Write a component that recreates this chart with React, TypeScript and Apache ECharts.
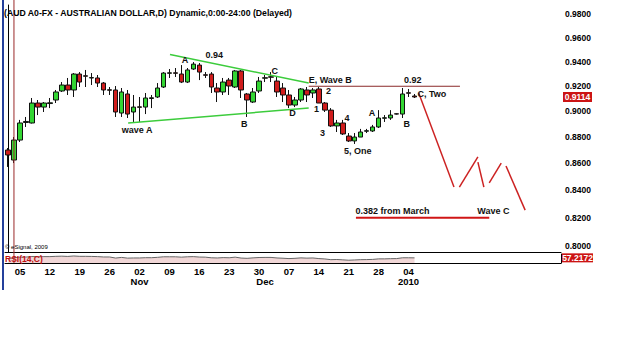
import React, { useEffect, useRef } from "react";
import * as echarts from "echarts";

// ---------- calendar (weekday categories) ----------
const START_DATE = "2009-10-01";
const LAST_LABEL_DATE = "2010-01-04";
const N_SLOTS = 93;
function weekdays(start: string, n: number): string[] {
  const out: string[] = [];
  const d = new Date(start + "T00:00:00Z");
  while (out.length < n) {
    const wd = d.getUTCDay();
    if (wd !== 0 && wd !== 6) out.push(d.toISOString().slice(0, 10));
    d.setUTCDate(d.getUTCDate() + 1);
  }
  return out;
}
const categories = weekdays(START_DATE, N_SLOTS);
const monthLabels: Record<string, string> = {
  "2009-11-02": "Nov",
  "2009-12-01": "Dec",
  "2010-01-04": "2010",
};

// ---------- daily OHLC (AUD) ----------
const opens = [
  0.8701, 0.8625, 0.8777, 0.8913, 0.8909, 0.9066, 0.9034, 0.9062, 0.909, 0.9162,
  0.921, 0.917, 0.9299, 0.9285, 0.9267, 0.9267, 0.9226, 0.9172, 0.917, 0.8987,
  0.9138, 0.8995, 0.9036, 0.9034, 0.9102, 0.9114, 0.9194, 0.9305, 0.9309, 0.9299,
  0.9234, 0.934, 0.9372, 0.9293, 0.9299, 0.9186, 0.9154, 0.925, 0.9194, 0.9324,
  0.9138, 0.9074, 0.9162, 0.9265, 0.9277, 0.9242, 0.9186, 0.913, 0.905, 0.909,
  0.917, 0.9146, 0.9178, 0.9066, 0.901, 0.8886, 0.8909, 0.8808, 0.877, 0.88,
  0.8845, 0.8847, 0.8878, 0.8946, 0.8948, 0.8981, 0.8979, 0.9148, 0.9122,
];
const closes = [
  0.8663, 0.8777, 0.8909, 0.8921, 0.9066, 0.9034, 0.9066, 0.9068, 0.9154, 0.921,
  0.917, 0.9299, 0.9234, 0.9281, 0.927, 0.9226, 0.917, 0.9168, 0.8995, 0.9154,
  0.8979, 0.9034, 0.9032, 0.9106, 0.9108, 0.9186, 0.9307, 0.9309, 0.9305, 0.9234,
  0.9332, 0.938, 0.9315, 0.9289, 0.9194, 0.9154, 0.9234, 0.9202, 0.9324, 0.917,
  0.909, 0.9154, 0.9242, 0.9269, 0.9273, 0.9154, 0.913, 0.905, 0.909, 0.9178,
  0.913, 0.917, 0.9066, 0.901, 0.8886, 0.8909, 0.8824, 0.877, 0.88, 0.8839,
  0.8849, 0.8878, 0.8948, 0.895, 0.8971, 0.8979, 0.9138, 0.9144, 0.9114,
];
const lows = [
  0.8573, 0.8602, 0.8762, 0.8878, 0.8905, 0.8971, 0.8995, 0.9026, 0.9066, 0.9154,
  0.913, 0.9114, 0.9194, 0.9194, 0.921, 0.9194, 0.913, 0.913, 0.8956, 0.8956,
  0.8948, 0.8917, 0.8917, 0.8979, 0.9026, 0.9106, 0.9186, 0.9267, 0.9275, 0.9226,
  0.9226, 0.9332, 0.925, 0.9267, 0.9146, 0.9074, 0.913, 0.913, 0.9186, 0.9106,
  0.8956, 0.9066, 0.9146, 0.9234, 0.9234, 0.9114, 0.9074, 0.9026, 0.9034, 0.9074,
  0.9074, 0.9106, 0.9066, 0.8995, 0.8878, 0.8839, 0.8816, 0.8762, 0.8747, 0.88,
  0.8831, 0.8839, 0.887, 0.8917, 0.8933, 0.8975, 0.8948, 0.9114, 0.9106,
];
const highs = [
  0.8716, 0.88, 0.8933, 0.8956, 0.9106, 0.909, 0.9074, 0.9106, 0.917, 0.9234,
  0.9267, 0.9307, 0.9315, 0.9332, 0.9307, 0.9291, 0.9234, 0.9194, 0.9202, 0.9186,
  0.917, 0.913, 0.9114, 0.9146, 0.913, 0.9226, 0.9315, 0.934, 0.9348, 0.9372,
  0.9348, 0.9397, 0.9389, 0.9315, 0.9315, 0.9226, 0.9267, 0.9267, 0.9332, 0.9332,
  0.9146, 0.9186, 0.9275, 0.9291, 0.9315, 0.9275, 0.9226, 0.917, 0.9114, 0.9186,
  0.9194, 0.9186, 0.9194, 0.9074, 0.9026, 0.8933, 0.8933, 0.8831, 0.8831, 0.8863,
  0.8863, 0.8894, 0.901, 0.8971, 0.901, 0.8985, 0.9186, 0.9178, 0.9138,
];

// RSI(14,C)
const rsiValues = [
  48, 58, 65, 66, 72, 70, 71, 71, 74, 76, 73, 78, 74, 74, 73, 71, 67, 67, 55, 62,
  54, 56, 56, 59, 59, 63, 69, 69, 69, 65, 69, 71, 66, 65, 58, 56, 60, 58, 65, 55,
  52, 57, 61, 62, 62, 56, 53, 49, 52, 57, 54, 56, 49, 45, 37, 39, 35, 31, 34, 37,
  38, 40, 46, 46, 48, 49, 58, 58, 57.2172,
];
const lastPrice = 0.9114;
const lastRsi = 57.2172;

// price axis tick labels
const priceTicks = [0.98, 0.96, 0.94, 0.92, 0.9, 0.88, 0.86, 0.84, 0.82, 0.8];
const priceMin = 0.7958;
const priceMax = 0.9878;

// ---------- hand-drawn annotations (x = trading-day slot, y = price) ----------
const triangleUpper = [[27.1, 0.9459], [50.3, 0.9226]];
const triangleLower = [[20.1, 0.8909], [50.3, 0.9026]];
const waveBLevel = [[50.3, 0.92], [75.6, 0.92]];
const fibLevel = [[58.2, 0.82], [80.5, 0.82]];
const projection = [
  [[68.7, 0.9146], [74.6, 0.8423]],
  [[75.5, 0.8423], [78.6, 0.8648]],
  [[78.6, 0.8609], [79.6, 0.8423]],
  [[80.5, 0.8454], [82.5, 0.8602]],
  [[83.3, 0.858], [86.5, 0.8255]],
];
const waveLabels: { text: string; x: number; y: number }[] = [
  { text: "0.94", x: 34.5, y: 0.9455 },
  { text: "A", x: 29.6, y: 0.9413 },
  { text: "wave A", x: 21.6, y: 0.8855 },
  { text: "B", x: 39.5, y: 0.8902 },
  { text: "C", x: 44.6, y: 0.9324 },
  { text: "D", x: 47.6, y: 0.8987 },
  { text: "E, Wave B", x: 53.9, y: 0.925 },
  { text: "2", x: 53.6, y: 0.9162 },
  { text: "1", x: 51.6, y: 0.9018 },
  { text: "3", x: 52.6, y: 0.8831 },
  { text: "4", x: 56.7, y: 0.8948 },
  { text: "5, One", x: 58.5, y: 0.8694 },
  { text: "A", x: 60.9, y: 0.8987 },
  { text: "B", x: 66.7, y: 0.8902 },
  { text: "0.92", x: 67.7, y: 0.925 },
  { text: "C, Two", x: 70.9, y: 0.9138 },
  { text: "0.382 from March", x: 64.3, y: 0.8252 },
  { text: "Wave C", x: 81.2, y: 0.8252 },
];
const cursorSlot = 1;

const FONT = "Arial, 'Liberation Sans', sans-serif";

export default function App() {
  const ref = useRef<HTMLDivElement>(null);
  useEffect(() => {
    if (!ref.current) return;
    const chart = echarts.init(ref.current, null, { renderer: "svg" });
    const candleData = opens.map((o, i) => [o, closes[i], lows[i], highs[i]]);
    const lineSeries = (data: number[][], color: string, width: number) => ({
      type: "line",
      xAxisIndex: 1,
      yAxisIndex: 0,
      data,
      symbol: "none",
      silent: true,
      lineStyle: { color, width },
      z: 5,
    });
    const option: any = {
      animation: false,
      backgroundColor: "#fff",
      grid: [
        { left: 5, right: 64, top: 5, height: 247 },
        { left: 5, right: 64, top: 254, height: 9 },
      ],
      xAxis: [
        {
          type: "category", gridIndex: 0, position: "bottom", data: categories, boundaryGap: true,
          axisLine: { show: true, lineStyle: { color: "#000", width: 1 } },
          axisTick: { show: false }, axisLabel: { show: false }, splitLine: { show: false },
        },
        { type: "value", gridIndex: 0, position: "bottom", min: -0.5, max: N_SLOTS - 0.5, show: false },
        {
          type: "category", gridIndex: 1, position: "bottom", data: categories, boundaryGap: true,
          axisLine: { show: true, lineStyle: { color: "#000", width: 1 } },
          axisTick: { show: false },
          axisLabel: {
            show: true, margin: 3, color: "#000", fontSize: 9.5, fontWeight: "bold", fontFamily: FONT,
            interval: (_i: number, v: string) =>
              new Date(v + "T00:00:00Z").getUTCDay() === 1 && v <= LAST_LABEL_DATE,
            formatter: (v: string) => v.slice(8, 10),
          },
          splitLine: { show: false },
        },
        {
          type: "category", gridIndex: 1, position: "bottom", data: categories, boundaryGap: true, offset: 10,
          axisLine: { show: false }, axisTick: { show: false },
          axisLabel: {
            show: true, margin: 3, color: "#000", fontSize: 9.5, fontWeight: "bold", fontFamily: FONT,
            interval: (_i: number, v: string) => v in monthLabels,
            formatter: (v: string) => monthLabels[v] || "",
          },
          splitLine: { show: false },
        },
      ],
      yAxis: [
        {
          type: "log", gridIndex: 0, position: "right", min: priceMin, max: priceMax,
          axisLine: { show: true, lineStyle: { color: "#000", width: 1 } },
          axisTick: { show: false }, axisLabel: { show: false }, splitLine: { show: false },
        },
        {
          type: "value", gridIndex: 1, position: "right", min: 0, max: 100,
          axisLine: { show: true, lineStyle: { color: "#000", width: 1 } },
          axisTick: { show: false }, axisLabel: { show: false }, splitLine: { show: false },
        },
      ],
      series: [
        {
          type: "candlestick",
          xAxisIndex: 0,
          yAxisIndex: 0,
          data: candleData,
          barWidth: 5,
          itemStyle: {
            color: "#33d633",
            color0: "#d01c1c",
            borderColor: "#111",
            borderColor0: "#111",
            borderWidth: 1,
          },
          z: 3,
        },
        {
          type: "line",
          xAxisIndex: 2,
          yAxisIndex: 1,
          data: rsiValues,
          symbol: "none",
          lineStyle: { color: "#666", width: 1 },
          areaStyle: { color: "#ebc6c6", origin: "start" },
          silent: true,
        },
        lineSeries(triangleUpper, "#3ccc3c", 1.5),
        lineSeries(triangleLower, "#3ccc3c", 1.5),
        lineSeries(waveBLevel, "#8a2a2a", 1),
        lineSeries(fibLevel, "#d01616", 2),
        ...projection.map((seg) => lineSeries(seg, "#cc2222", 1.5)),
      ],
    };
    chart.setOption(option);

    const py = (v: number) => chart.convertToPixel({ yAxisIndex: 0 }, v) as number;
    const pt = (x: number, y: number) =>
      chart.convertToPixel({ xAxisIndex: 1, yAxisIndex: 0 }, [x, y]) as number[];
    const graphics: any[] = [];
    // left window border
    graphics.push({ type: "line", shape: { x1: 3, y1: 0, x2: 3, y2: 290 }, style: { stroke: "#24409c", lineWidth: 2 }, z: 10 });
    // cursor line
    const cx = chart.convertToPixel({ xAxisIndex: 1 }, cursorSlot) as number;
    graphics.push({ type: "line", shape: { x1: cx, y1: 0, x2: cx, y2: 263 }, style: { stroke: "#9a2a2a", lineWidth: 1 }, z: 10 });
    // price tick labels
    priceTicks.forEach((v) => {
      graphics.push({
        type: "text", x: 565, y: py(v),
        style: { text: v.toFixed(4), fill: "#000", fontSize: 8.5, fontWeight: "bold", fontFamily: FONT, align: "left", verticalAlign: "middle" },
        z: 10,
      });
    });
    // last price box
    const ly = py(lastPrice);
    graphics.push({ type: "rect", shape: { x: 563, y: ly - 5, width: 29, height: 10 }, style: { fill: "#cc1414" }, z: 11 });
    graphics.push({
      type: "text", x: 577.5, y: ly,
      style: { text: lastPrice.toFixed(4), fill: "#fff", fontSize: 8.5, fontWeight: "bold", fontFamily: FONT, align: "center", verticalAlign: "middle" },
      z: 12,
    });
    // RSI value box
    const ry = chart.convertToPixel({ yAxisIndex: 1 }, lastRsi) as number;
    graphics.push({ type: "rect", shape: { x: 562, y: ry - 4.5, width: 31, height: 9 }, style: { fill: "#cc1414" }, z: 11 });
    graphics.push({
      type: "text", x: 577.5, y: ry,
      style: { text: lastRsi.toFixed(4), fill: "#fff", fontSize: 8.5, fontWeight: "bold", fontFamily: FONT, align: "center", verticalAlign: "middle" },
      z: 12,
    });
    // title, copyright, RSI caption
    graphics.push({
      type: "text", x: 4, y: 13,
      style: { text: "(AUD A0-FX - AUSTRALIAN DOLLAR,D) Dynamic,0:00-24:00 (Delayed)", fill: "#000", fontSize: 8.7, fontWeight: "bold", fontFamily: FONT, align: "left", verticalAlign: "middle" },
      z: 12,
    });
    graphics.push({
      type: "text", x: 5, y: 246.5,
      style: { text: "© eSignal, 2009", fill: "#000", fontSize: 6, fontFamily: FONT, align: "left", verticalAlign: "middle" },
      z: 12,
    });
    graphics.push({
      type: "text", x: 5, y: 258.5,
      style: { text: "RSI(14,C)", fill: "#c01010", fontSize: 8.5, fontWeight: "bold", fontFamily: FONT, align: "left", verticalAlign: "middle" },
      z: 12,
    });
    // wave labels
    waveLabels.forEach((l) => {
      const p = pt(l.x, l.y);
      graphics.push({
        type: "text", x: p[0], y: p[1],
        style: { text: l.text, fill: "#111", fontSize: 9, fontWeight: "bold", fontFamily: FONT, align: "center", verticalAlign: "middle" },
        z: 12,
      });
    });
    chart.setOption({ graphic: graphics });
    return () => chart.dispose();
  }, []);
  return (
    <div
      ref={ref}
      style={{ position: "fixed", left: 0, top: 0, width: 625, height: 344, background: "#fff" }}
    />
  );
}
